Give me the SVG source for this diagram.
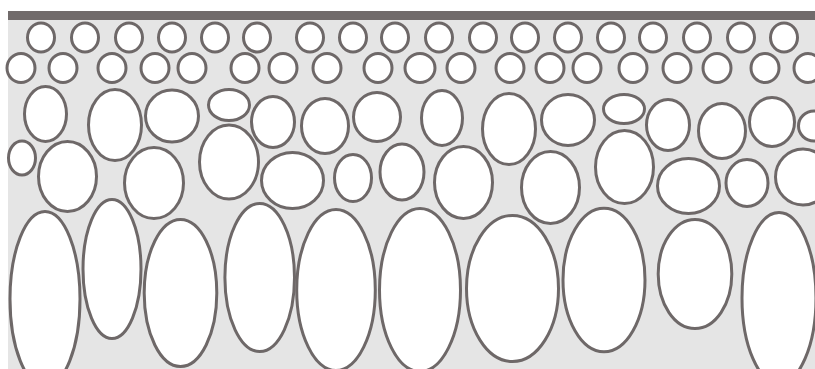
<svg xmlns="http://www.w3.org/2000/svg" width="815" height="369" viewBox="0 0 815 369">
<style>
.c{fill:#ffffff;stroke:#6e6868;stroke-width:3}
</style>
<rect x="0" y="0" width="815" height="369" fill="#ffffff"/>
<rect x="8" y="11" width="807" height="358" fill="#e5e5e5"/>
<rect x="8" y="11" width="807" height="9" fill="#716b6b"/>
<g id="row1">
<ellipse class="c" cx="41" cy="37.5" rx="13.5" ry="14.5"/>
<ellipse class="c" cx="85" cy="37.5" rx="13.5" ry="14.5"/>
<ellipse class="c" cx="129" cy="37.5" rx="13.5" ry="14.5"/>
<ellipse class="c" cx="172" cy="37.5" rx="13.5" ry="14.5"/>
<ellipse class="c" cx="215" cy="37.5" rx="13.5" ry="14.5"/>
<ellipse class="c" cx="257" cy="37.5" rx="13.5" ry="14.5"/>
<ellipse class="c" cx="310" cy="37.5" rx="13.5" ry="14.5"/>
<ellipse class="c" cx="353" cy="37.5" rx="13.5" ry="14.5"/>
<ellipse class="c" cx="395" cy="37.5" rx="13.5" ry="14.5"/>
<ellipse class="c" cx="439" cy="37.5" rx="13.5" ry="14.5"/>
<ellipse class="c" cx="483" cy="37.5" rx="13.5" ry="14.5"/>
<ellipse class="c" cx="525" cy="37.5" rx="13.5" ry="14.5"/>
<ellipse class="c" cx="568" cy="37.5" rx="13.5" ry="14.5"/>
<ellipse class="c" cx="611" cy="37.5" rx="13.5" ry="14.5"/>
<ellipse class="c" cx="653" cy="37.5" rx="13.5" ry="14.5"/>
<ellipse class="c" cx="697" cy="37.5" rx="13.5" ry="14.5"/>
<ellipse class="c" cx="741" cy="37.5" rx="13.5" ry="14.5"/>
<ellipse class="c" cx="784" cy="37.5" rx="13.5" ry="14.5"/>
</g>
<g id="row2">
<ellipse class="c" cx="21" cy="68" rx="14" ry="14.5"/>
<ellipse class="c" cx="63" cy="68" rx="14" ry="14.5"/>
<ellipse class="c" cx="112" cy="68" rx="14" ry="14.5"/>
<ellipse class="c" cx="155" cy="68" rx="14" ry="14.5"/>
<ellipse class="c" cx="192" cy="68" rx="14" ry="14.5"/>
<ellipse class="c" cx="245" cy="68" rx="14" ry="14.5"/>
<ellipse class="c" cx="283" cy="68" rx="14" ry="14.5"/>
<ellipse class="c" cx="327" cy="68" rx="14" ry="14.5"/>
<ellipse class="c" cx="378" cy="68" rx="14" ry="14.5"/>
<ellipse class="c" cx="420" cy="68" rx="15" ry="14.5"/>
<ellipse class="c" cx="461" cy="68" rx="14" ry="14.5"/>
<ellipse class="c" cx="510" cy="68" rx="14" ry="14.5"/>
<ellipse class="c" cx="550" cy="68" rx="14" ry="14.5"/>
<ellipse class="c" cx="587" cy="68" rx="14" ry="14.5"/>
<ellipse class="c" cx="633" cy="68" rx="14" ry="14.5"/>
<ellipse class="c" cx="677" cy="68" rx="14" ry="14.5"/>
<ellipse class="c" cx="717" cy="68" rx="14" ry="14.5"/>
<ellipse class="c" cx="765" cy="68" rx="14" ry="14.5"/>
<ellipse class="c" cx="808" cy="68" rx="14" ry="14.5"/>
</g>
<g id="row3">
<ellipse class="c" cx="45.5" cy="114" rx="21" ry="27.5"/>
<ellipse class="c" cx="115" cy="125" rx="26.5" ry="35.5"/>
<ellipse class="c" cx="172" cy="116" rx="26.5" ry="26"/>
<ellipse class="c" cx="229" cy="105" rx="20.5" ry="15.5"/>
<ellipse class="c" cx="273" cy="122" rx="21.5" ry="25.5"/>
<ellipse class="c" cx="325" cy="126" rx="23.5" ry="27.5"/>
<ellipse class="c" cx="377" cy="117" rx="23.5" ry="24.5"/>
<ellipse class="c" cx="442" cy="118" rx="20.5" ry="27.5"/>
<ellipse class="c" cx="509" cy="129" rx="26.5" ry="35.5"/>
<ellipse class="c" cx="568" cy="120" rx="26.5" ry="25.5"/>
<ellipse class="c" cx="624" cy="109" rx="20.5" ry="14.5"/>
<ellipse class="c" cx="668" cy="125" rx="21.5" ry="25.5"/>
<ellipse class="c" cx="722" cy="131" rx="23.5" ry="27.5"/>
<ellipse class="c" cx="772" cy="122" rx="22.5" ry="24.5"/>
<ellipse class="c" cx="814" cy="126" rx="15.5" ry="15"/>
</g>
<g id="row4">
<ellipse class="c" cx="22" cy="158" rx="13.5" ry="17"/>
<ellipse class="c" cx="67.5" cy="176.5" rx="29" ry="35"/>
<ellipse class="c" cx="154" cy="183" rx="29.5" ry="35.5"/>
<ellipse class="c" cx="229" cy="162" rx="29.5" ry="37"/>
<ellipse class="c" cx="292.5" cy="180.5" rx="31" ry="28"/>
<ellipse class="c" cx="353" cy="178" rx="18.5" ry="23.5"/>
<ellipse class="c" cx="402" cy="172" rx="22" ry="28"/>
<ellipse class="c" cx="463.5" cy="182.5" rx="29" ry="36"/>
<ellipse class="c" cx="550.5" cy="187.5" rx="29" ry="36"/>
<ellipse class="c" cx="624.5" cy="167" rx="29" ry="36.5"/>
<ellipse class="c" cx="688.5" cy="186" rx="31" ry="27.5"/>
<ellipse class="c" cx="747" cy="183" rx="21" ry="23.5"/>
<ellipse class="c" cx="803" cy="177" rx="27.5" ry="28"/>
</g>
<g id="row5">
<ellipse class="c" cx="45" cy="299" rx="35" ry="87.5"/>
<ellipse class="c" cx="112" cy="269" rx="29" ry="69.5"/>
<ellipse class="c" cx="180.5" cy="293" rx="36.3" ry="73.5"/>
<ellipse class="c" cx="259.7" cy="277.5" rx="34.8" ry="74"/>
<ellipse class="c" cx="336" cy="290" rx="39.3" ry="80.5"/>
<ellipse class="c" cx="420" cy="290" rx="40.5" ry="81.5"/>
<ellipse class="c" cx="512.5" cy="288.5" rx="46" ry="73"/>
<ellipse class="c" cx="604" cy="280" rx="41" ry="71.8"/>
<ellipse class="c" cx="695" cy="274" rx="36.8" ry="54.5"/>
<ellipse class="c" cx="779" cy="298" rx="37" ry="85.5"/>
</g>
</svg>
